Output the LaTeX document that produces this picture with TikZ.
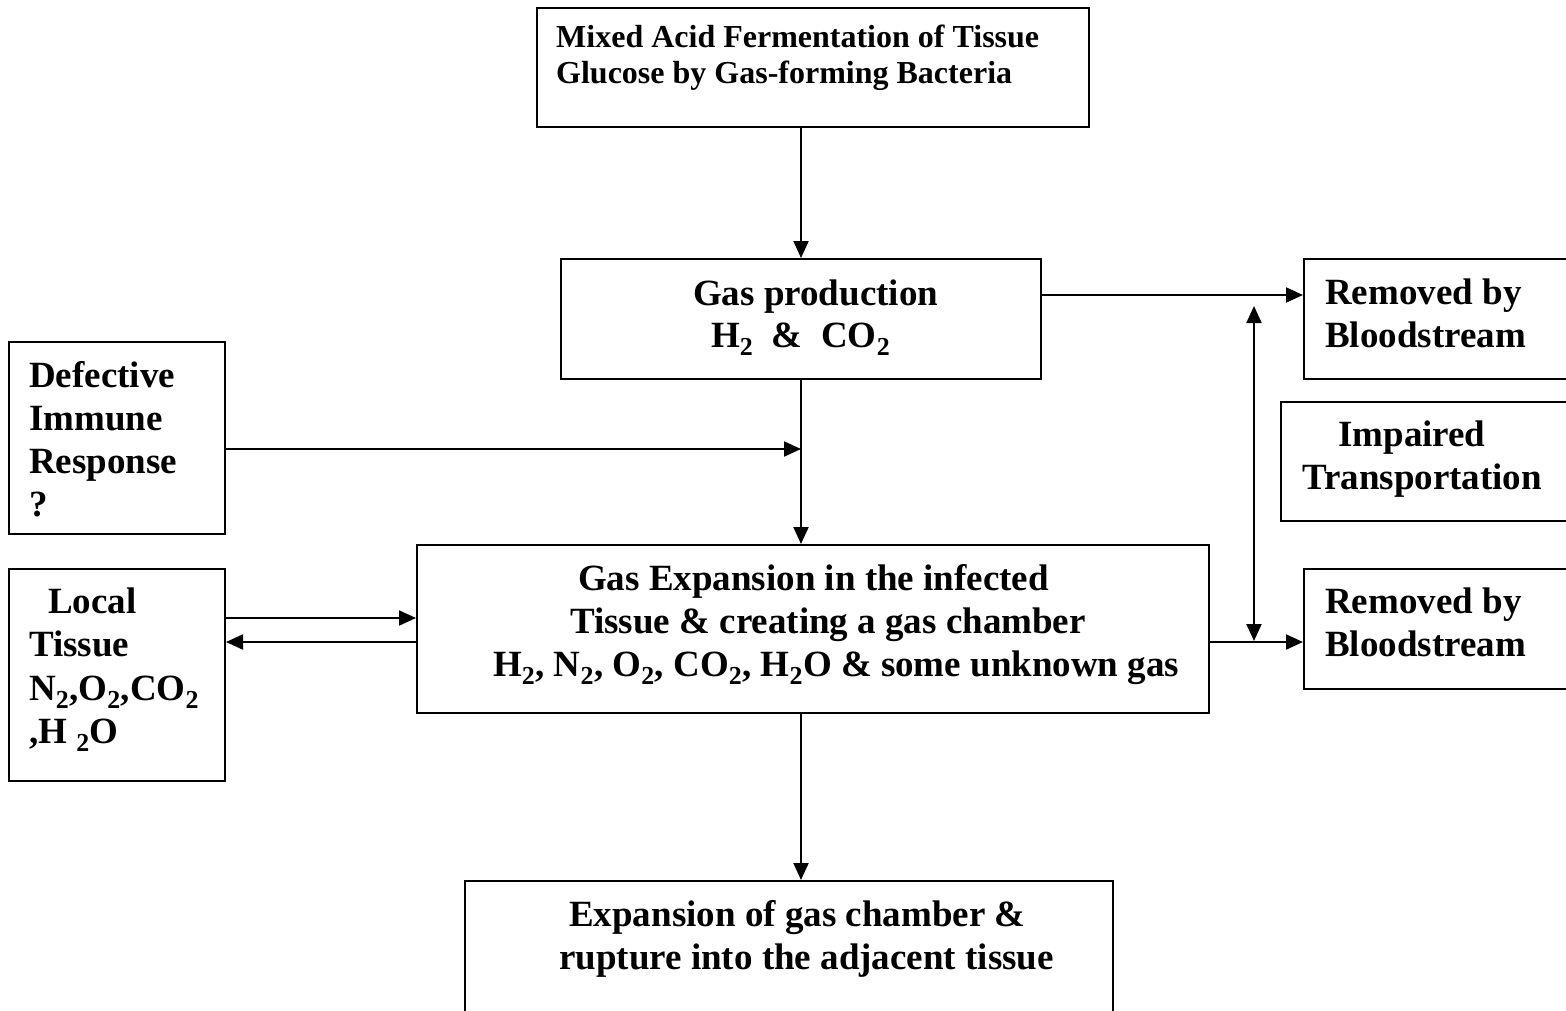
\documentclass[tikz,border=0pt]{standalone}
\usepackage{fontspec}
\setmainfont{Liberation Serif}
\usetikzlibrary{arrows.meta}
\tikzset{
  box/.style={draw=black, line width=2pt, rectangle, inner sep=0pt, anchor=north west},
  txt/.style={inner sep=0pt, anchor=base west, font=\bfseries\fontsize{37}{44}\selectfont},
  txtsm/.style={inner sep=0pt, anchor=base west, font=\bfseries\fontsize{32}{38}\selectfont},
  arr/.style={line width=2pt, -{Triangle[length=17pt,width=15pt]}},
  arrtwo/.style={line width=2pt, {Triangle[length=17pt,width=15pt]}-{Triangle[length=17pt,width=15pt]}}
}
\newcommand{\sub}[1]{\textsubscript{#1}}
\begin{document}
\begin{tikzpicture}[x=1pt,y=-1pt]
\useasboundingbox (0,0) rectangle (1566,1010);
\clip (0,0) rectangle (1566,1010);
% boxes
\node[box, minimum width=552pt, minimum height=119pt] (top) at (536,7) {};
\node[box, minimum width=480pt, minimum height=120pt] (gas) at (560,258) {};
\node[box, minimum width=216pt, minimum height=192pt] (def) at (8,341) {};
\node[box, minimum width=216pt, minimum height=212pt] (loc) at (8,568) {};
\node[box, minimum width=792pt, minimum height=168pt] (main) at (416,544) {};
\node[box, minimum width=648pt, minimum height=160pt] (bot) at (464,880) {};
\node[box, minimum width=290pt, minimum height=120pt] (rem1) at (1303,258) {};
\node[box, minimum width=310pt, minimum height=119pt] (imp) at (1280,401) {};
\node[box, minimum width=290pt, minimum height=120pt] (rem2) at (1303,568) {};
% texts
\node[txtsm] (t1a) at (556,47) {Mixed Acid Fermentation of Tissue};
\node[txtsm] (t1b) at (556,83) {Glucose by Gas-forming Bacteria};
\node[txt] (g1) at (693,305) {Gas production};
\node[txt] (g2) at (711,347) {H\sub{2}\ \ \&\ \ CO\sub{2}};
\node[txt] (d1) at (29,387) {Defective};
\node[txt] (d2) at (29,430) {Immune};
\node[txt] (d3) at (29,473) {Response};
\node[txt] (d4) at (29,516) {?};
\node[txt] (l1) at (48,613) {Local};
\node[txt] (l2) at (29,656) {Tissue};
\node[txt] (l3) at (29,700) {N\sub{2},O\sub{2},CO\sub{2}};
\node[txt] (l4) at (29,743) {,H \sub{2}O};
\node[txt] (m1) at (578,590) {Gas Expansion in the infected};
\node[txt] (m2) at (570,633) {Tissue \& creating a gas chamber};
\node[txt] (m3) at (493,676) {H\sub{2}, N\sub{2}, O\sub{2}, CO\sub{2}, H\sub{2}O \& some unknown gas};
\node[txt] (b1) at (569,926) {Expansion of gas chamber \&};
\node[txt] (b2) at (559,969) {rupture into the adjacent tissue};
\node[txt] (r1a) at (1325,304) {Removed by};
\node[txt] (r1b) at (1325,347) {Bloodstream};
\node[txt] (i1) at (1338,446) {Impaired};
\node[txt] (i2) at (1302,489) {Transportation};
\node[txt] (r2a) at (1325,613) {Removed by};
\node[txt] (r2b) at (1325,656) {Bloodstream};
% connectors
\draw[arr] (gas.north |- top.south) -- (gas.north);
\draw[arr] (gas.south) -- (gas.south |- main.north);
\draw[arr] ([yshift=-11pt]def.east) -- ([yshift=-11pt]def.east -| gas.south);
\draw[arr] ([yshift=11pt]main.west -| loc.east) -- ([yshift=11pt]main.west);
\draw[arr] ([yshift=-13pt]main.west) -- ([yshift=-13pt]main.west -| loc.east);
\draw[arr] (gas.south |- main.south) -- (gas.south |- bot.north);
\draw[arr] ([yshift=24pt]gas.east) -- ([yshift=24pt]gas.east -| rem1.west);
\draw[arr] ([yshift=-13pt]main.east) -- ([yshift=-13pt]main.east -| rem2.west);
\coordinate (vt) at (1254,306);
\coordinate (vb) at (1254,641);
\draw[arrtwo] (vt) -- (vb);
\end{tikzpicture}
\end{document}
